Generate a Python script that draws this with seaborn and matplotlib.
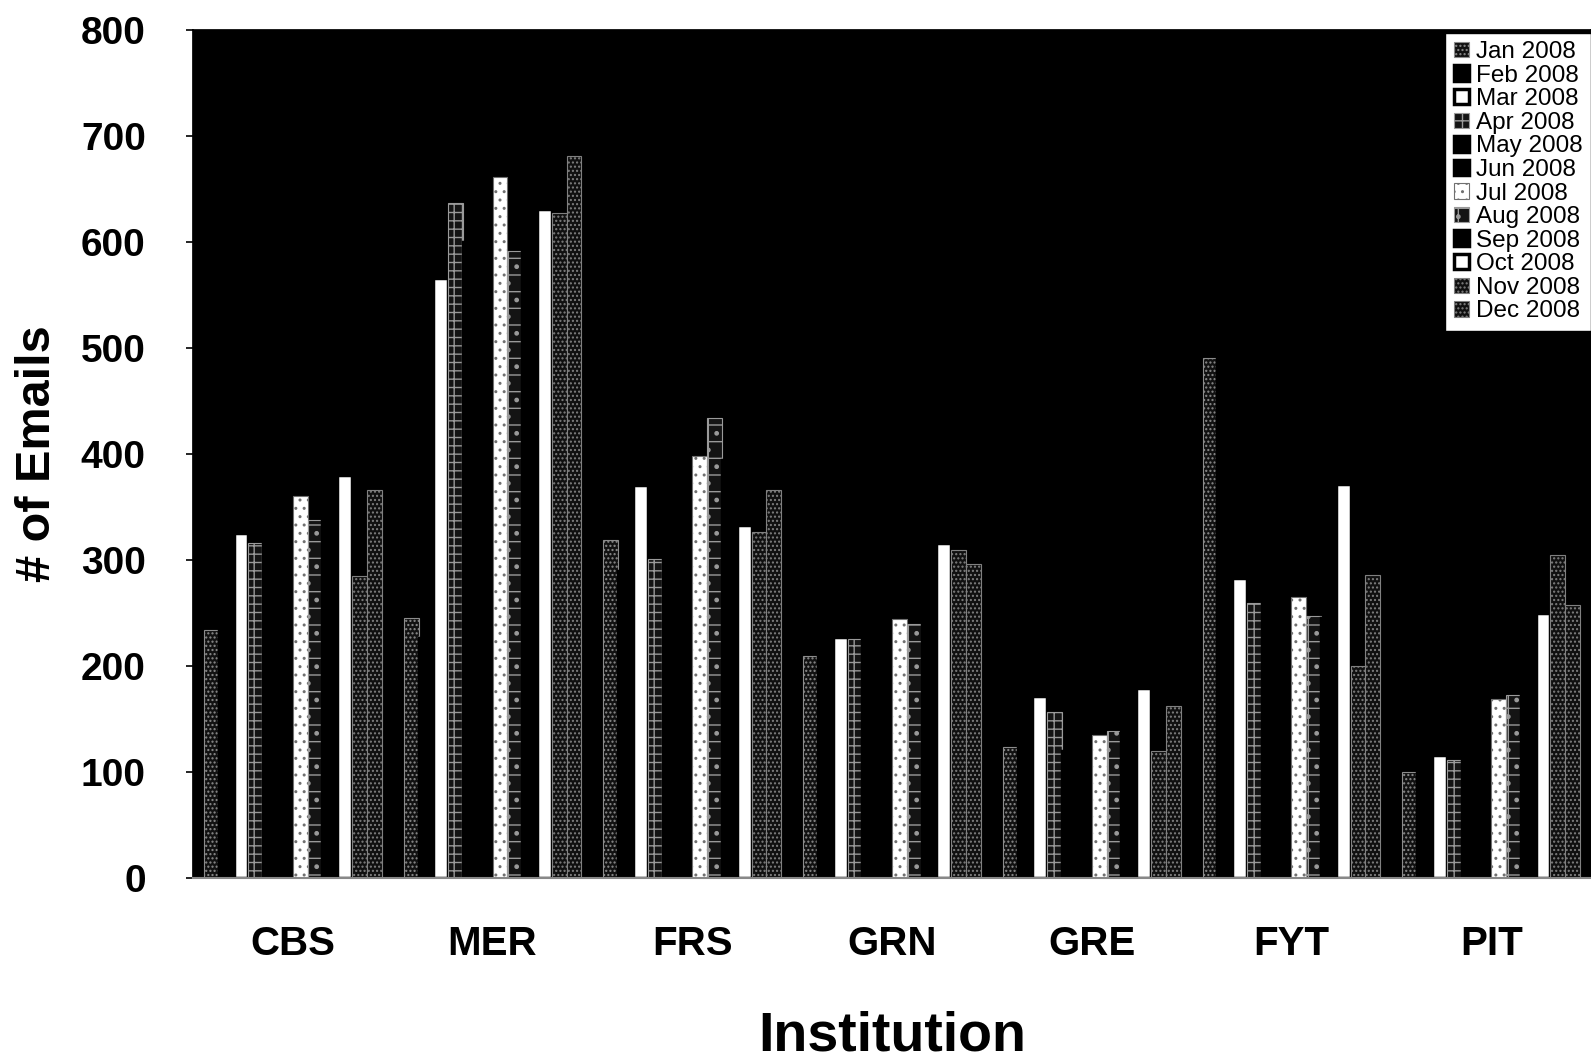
import numpy as np
import pandas as pd
import matplotlib
matplotlib.use("Agg")
import matplotlib.pyplot as plt
import seaborn as sns

# ---------------------------------------------------------
# Data: monthly e-mail counts per institution
# ---------------------------------------------------------
institutions = ["CBS", "MER", "FRS", "GRN", "GRE", "FYT", "PIT"]
months = ["Jan 2008", "Feb 2008", "Mar 2008", "Apr 2008", "May 2008", "Jun 2008",
          "Jul 2008", "Aug 2008", "Sep 2008", "Oct 2008", "Nov 2008", "Dec 2008"]

cbs = [234, 311, 325, 316, 330, 320, 360, 338, 418, 380, 285, 366]
mer = [245, 226, 566, 637, 600, 632, 661, 592, 629, 631, 627, 681]
frs = [319, 290, 371, 301, 336, 448, 398, 434, 394, 333, 326, 366]
grn = [209, 246, 227, 225, 256, 281, 244, 240, 292, 316, 309, 296]
gre = [124, 146, 172, 157, 120, 115, 135, 139, 203, 179, 120, 162]
fyt = [491, 502, 283, 259, 297, 250, 265, 247, 245, 372, 200, 286]
pit = [100, 123, 116, 111, 136, 230, 169, 173, 195, 250, 305, 258]

counts = {"CBS": cbs, "MER": mer, "FRS": frs, "GRN": grn,
          "GRE": gre, "FYT": fyt, "PIT": pit}

rows = []
for inst, vals in counts.items():
    for m, v in zip(months, vals):
        rows.append({"Institution": inst, "Month": m, "Emails": v})
df = pd.DataFrame(rows)

# fill / hatch / hatch colour per month (scanned b&w Excel look)
face = ["#111111", "black", "white", "#141414", "black", "black",
        "white", "#141414", "black", "white", "#101010", "#101010"]
hatch = ["....", None, None, "++", None, None,
         "..", "+.", None, None, "....", "...."]
edge = ["#8c8c8c", "black", "black", "#9a9a9a", "black", "black",
        "#707070", "#9a9a9a", "black", "black", "#808080", "#808080"]

# ---------------------------------------------------------
# Plot
# ---------------------------------------------------------
sns.set_theme(style="white")
plt.rcParams["font.family"] = ["Liberation Sans", "DejaVu Sans"]
plt.rcParams["hatch.linewidth"] = 1.0
plt.rcParams["text.color"] = "black"
plt.rcParams["axes.labelcolor"] = "black"
plt.rcParams["xtick.color"] = "black"
plt.rcParams["ytick.color"] = "black"

fig = plt.figure(figsize=(15.91, 10.62), dpi=100)
ax = fig.add_axes([0.1213, 0.1733, 0.8787, 0.7984])
ax.set_facecolor("black")

sns.barplot(data=df, x="Institution", y="Emails", hue="Month",
            order=institutions, hue_order=months, palette=face,
            width=0.89, saturation=1, legend=False, ax=ax,
            edgecolor="black", linewidth=2.5)

for i, cont in enumerate(ax.containers):
    for p in cont.patches:
        p.set_facecolor(face[i])
        if hatch[i]:
            p.set_hatch(hatch[i])
            p.set_edgecolor(edge[i])
            p.set_linewidth(0.8)

ax.set_xlim(-0.5, len(institutions) - 0.5)
ax.set_ylim(0, 800)
ax.set_yticks(range(0, 801, 100))
ax.set_yticklabels([str(v) for v in range(0, 801, 100)], fontsize=28,
                   fontweight="bold", color="black")
ax.set_xticklabels(institutions, fontsize=29, fontweight="bold", color="black")
ax.set_xticks(np.arange(-0.5, len(institutions), 1), minor=True)

ax.tick_params(axis="x", which="major", length=0, pad=34, colors="black")
ax.tick_params(axis="x", which="minor", length=10, width=1.2, color="black", direction="out")
ax.tick_params(axis="y", length=5, width=1.2, color="black", pad=29, direction="out", left=True)

ax.set_ylabel("# of Emails", fontsize=35, fontweight="bold", color="black")
ax.yaxis.set_label_coords(-0.111, 0.5)
ax.yaxis.label.set_va("center")
ax.set_xlabel("Institution", fontsize=40, fontweight="bold", color="black")
ax.xaxis.set_label_coords(0.5, -0.1875)
ax.xaxis.label.set_va("center")

for s in ax.spines.values():
    s.set_color("black")
ax.spines["bottom"].set_color("#888888")
ax.spines["bottom"].set_linewidth(1.5)

leg = ax.legend(ax.containers, months, loc="upper right", bbox_to_anchor=(1.0, 0.997),
                borderaxespad=0, fontsize=17.5, frameon=True, fancybox=False,
                edgecolor="black", framealpha=1, facecolor="white",
                handlelength=0.6, handleheight=0.6, handletextpad=0.3,
                labelspacing=0.065, borderpad=0.35)
for t in leg.get_texts():
    t.set_color("black")

fig.savefig("out.png", dpi=100)
